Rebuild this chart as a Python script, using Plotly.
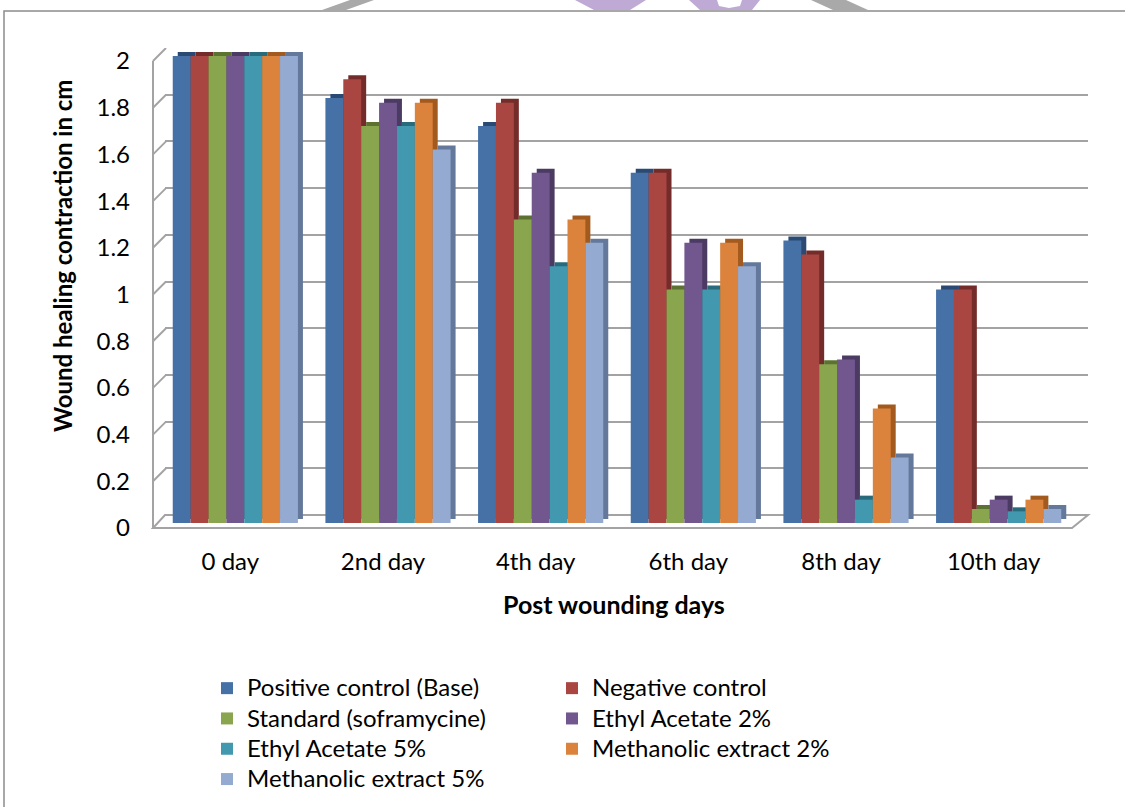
import plotly.graph_objects as go

# Wound contraction (cm) measured on each post-wounding day
days = ["0 day", "2nd day", "4th day", "6th day", "8th day", "10th day"]

positive_control = [2.0, 1.82, 1.70, 1.50, 1.21, 1.00]
negative_control = [2.0, 1.90, 1.80, 1.50, 1.15, 1.00]
standard_sofra = [2.0, 1.70, 1.30, 1.00, 0.68, 0.06]
ethyl_acetate_2 = [2.0, 1.80, 1.50, 1.20, 0.70, 0.10]
ethyl_acetate_5 = [2.0, 1.70, 1.10, 1.00, 0.10, 0.05]
methanolic_2 = [2.0, 1.80, 1.30, 1.20, 0.49, 0.10]
methanolic_5 = [2.0, 1.60, 1.20, 1.10, 0.28, 0.06]

series_names = [
    "Positive control (Base)", "Negative control", "Standard (soframycine)",
    "Ethyl Acetate 2%", "Ethyl Acetate 5%", "Methanolic extract 2%",
    "Methanolic extract 5%",
]
series_values = [
    positive_control, negative_control, standard_sofra, ethyl_acetate_2,
    ethyl_acetate_5, methanolic_2, methanolic_5,
]
face_colors = ["#4571A7", "#AA4642", "#89A54E", "#72578F", "#4198AF", "#DB833C", "#94AAD0"]
side_colors = ["#2B4A73", "#742C2A", "#5B7231", "#4B3A62", "#276B7D", "#A35A1E", "#63789A"]
legend_of = ["legend", "legend2", "legend", "legend2", "legend", "legend2", "legend"]

y_ticks = [round(0.2 * i, 1) for i in range(11)]

W, H = 1125, 807
FONT = "Lato"
TEXT_SIZE = 24


def fx(px):
    return px / W


def fy(py):
    return 1 - py / H


def big(label):
    return f'<span style="font-size:{TEXT_SIZE}px">{label}</span>'


def poly(points):
    return "M" + " L".join(f"{fx(px)},{fy(py)}" for px, py in points) + " Z"


fig = go.Figure()

# extruded depth of each column (drawn behind the faces, offset up/right)
for name, vals, col in zip(series_names, series_values, side_colors):
    fig.add_trace(go.Bar(x=days, y=vals, name=name, marker=dict(color=col, line=dict(width=0)),
                         xaxis="x2", yaxis="y2", showlegend=False, hoverinfo="skip"))

# column front faces
for name, vals, col, lg in zip(series_names, series_values, face_colors, legend_of):
    fig.add_trace(go.Bar(x=days, y=vals, name=big(name), marker=dict(color=col, line=dict(width=0)),
                         xaxis="x3", yaxis="y3", legend=lg))

# back wall carries the gridlines
fig.add_trace(go.Scatter(x=days, y=[None] * len(days), xaxis="x", yaxis="y",
                         showlegend=False, hoverinfo="skip"))

hidden_x = dict(type="category", showgrid=False, zeroline=False, showline=False,
                showticklabels=False, ticks="", range=[-0.5, 5.5])
hidden_y = dict(range=[0, 2], showgrid=False, zeroline=False, showline=False,
                showticklabels=False, ticks="")
legend_style = dict(xanchor="left", yanchor="top", orientation="v", bgcolor="rgba(0,0,0,0)",
                    font=dict(family=FONT, size=21, color="black"),
                    itemclick=False, itemdoubleclick=False)

fig.update_layout(
    width=W, height=H, autosize=False,
    margin=dict(l=0, r=0, t=0, b=0, autoexpand=False),
    paper_bgcolor="white", plot_bgcolor="rgba(0,0,0,0)",
    barmode="group", bargap=0.18, bargroupgap=0,
    font=dict(family=FONT, size=TEXT_SIZE, color="black"),
    xaxis=dict(hidden_x, domain=[fx(165), fx(1088)], anchor="y"),
    yaxis=dict(range=[0, 2], domain=[fy(515), fy(48)], anchor="x", tickvals=y_ticks,
               showgrid=True, gridcolor="#A3A3A3", gridwidth=2, zeroline=False,
               showline=False, showticklabels=False, ticks=""),
    xaxis2=dict(hidden_x, domain=[fx(164), fx(1080)], anchor="y2"),
    yaxis2=dict(hidden_y, domain=[fy(519), fy(52)], anchor="x2"),
    xaxis3=dict(type="category", range=[-0.5, 5.5], domain=[fx(159), fx(1075)], anchor="y3",
                showgrid=False, zeroline=False, showline=False, ticks="",
                tickfont=dict(family=FONT, size=TEXT_SIZE, color="black"),
                ticklabelstandoff=22, ticklabelshift=-5),
    yaxis3=dict(range=[0, 2], domain=[fy(523), fy(56)], anchor="x3", tickvals=y_ticks,
                showgrid=False, zeroline=False, showline=False, ticks="",
                tickfont=dict(family=FONT, size=TEXT_SIZE, color="black"),
                ticklabelstandoff=28, ticklabelshift=5),
    legend=dict(legend_style, x=fx(207), y=fy(668)),
    legend2=dict(legend_style, x=fx(552), y=fy(668)),
)

# axis titles
fig.add_annotation(text="<b>Post wounding days</b>", x=fx(614), y=fy(604), xref="paper", yref="paper",
                   xanchor="center", yanchor="middle", showarrow=False,
                   font=dict(family=FONT, size=25, color="black"))
fig.add_annotation(text="<b>Wound healing contraction in cm</b>", x=fx(62), y=fy(256),
                   xref="paper", yref="paper", xanchor="center", yanchor="middle",
                   textangle=-90, showarrow=False,
                   font=dict(family=FONT, size=TEXT_SIZE, color="black"))

wall = dict(color="#A3A3A3", width=2)
# floor of the plot box
fig.add_shape(type="path", xref="paper", yref="paper",
              path=poly([(153, 528), (1072, 528), (1088, 515), (165, 515)]),
              line=wall, fillcolor="white", layer="below")
# left wall: front edge and slanted tick marks at each gridline
fig.add_shape(type="line", xref="paper", yref="paper", x0=fx(153), x1=fx(153),
              y0=fy(528), y1=fy(61), line=wall, layer="below")
for v in y_ticks:
    fig.add_shape(type="line", xref="paper", yref="y", ysizemode="pixel", yanchor=v,
                  x0=fx(153), x1=fx(166), y0=-13, y1=0, line=wall, layer="below")

# chart frame
fig.add_shape(type="rect", xref="paper", yref="paper", x0=fx(4), x1=fx(1140),
              y0=fy(830), y1=fy(11), line=dict(color="#8C8C8C", width=1.5), layer="below")

# partial logo strokes peeking above the frame
logo_gray = "#A9A9A9"
logo_purple = "#BEAAD4"
fig.add_shape(type="path", xref="paper", yref="paper", line=dict(width=0), fillcolor=logo_gray,
              path=poly([(350, 0), (374, 0), (346, 10), (322, 10)]))
fig.add_shape(type="path", xref="paper", yref="paper", line=dict(width=0), fillcolor=logo_purple,
              path=poly([(575, 0), (646, 0), (630, 10), (594, 10)]))
fig.add_shape(type="path", xref="paper", yref="paper", line=dict(width=0), fillcolor=logo_purple,
              path=poly([(689, 0), (717, 0), (719, 6), (729, 8), (740, 6), (742, 0), (760, 0),
                         (752, 10), (700, 10)]))
fig.add_shape(type="path", xref="paper", yref="paper", line=dict(width=0), fillcolor=logo_gray,
              path=poly([(811, 0), (846, 0), (868, 10), (833, 10)]))

fig.write_html("out.html")
